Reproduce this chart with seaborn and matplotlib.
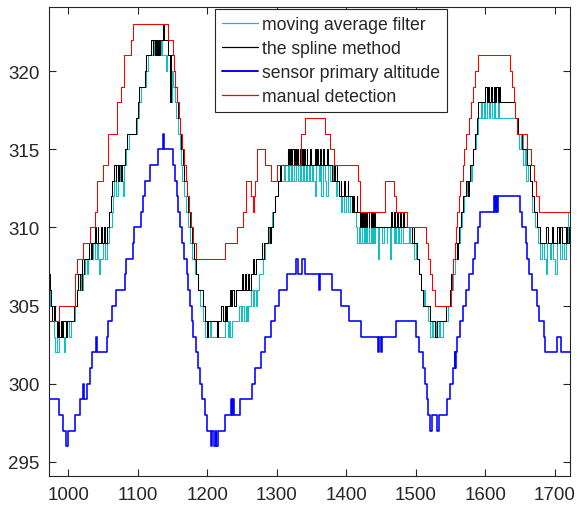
import matplotlib
matplotlib.use("Agg")
import matplotlib.pyplot as plt
import seaborn as sns

# step data: (x where the level starts, level)
moving_avg = [
    (972, 306), (974, 305), (977, 304), (979, 303), (981, 302), (983, 303), (984, 302), (986, 303),
    (990, 304), (991, 303), (993, 302), (995, 303), (998, 304), (1001, 303), (1003, 304), (1009, 305),
    (1013, 306), (1016, 307), (1018, 306), (1021, 307), (1024, 308), (1026, 307), (1028, 308), (1032, 309),
    (1034, 308), (1036, 309), (1038, 308), (1041, 309), (1043, 308), (1044, 307), (1046, 308), (1050, 309),
    (1052, 308), (1056, 309), (1059, 310), (1062, 311), (1064, 312), (1066, 313), (1069, 312), (1071, 313),
    (1074, 314), (1077, 313), (1078, 312), (1080, 314), (1083, 315), (1087, 316), (1099, 317), (1101, 318),
    (1104, 319), (1111, 320), (1115, 321), (1122, 322), (1123, 321), (1127, 322), (1128, 321), (1133, 322),
    (1134, 321), (1140, 320), (1142, 321), (1146, 319), (1147, 318), (1149, 320), (1151, 319), (1153, 318),
    (1155, 317), (1157, 316), (1160, 315), (1162, 314), (1164, 313), (1167, 312), (1169, 311), (1172, 310),
    (1175, 309), (1178, 308), (1182, 307), (1186, 306), (1189, 305), (1193, 304), (1196, 303), (1204, 304),
    (1205, 303), (1214, 304), (1216, 303), (1226, 304), (1229, 303), (1231, 304), (1233, 303), (1236, 304),
    (1245, 305), (1248, 304), (1250, 305), (1253, 304), (1255, 305), (1257, 304), (1258, 305), (1263, 306),
    (1266, 305), (1267, 306), (1270, 305), (1271, 306), (1275, 307), (1280, 308), (1283, 309), (1288, 310),
    (1293, 311), (1297, 312), (1301, 313), (1310, 314), (1312, 313), (1316, 314), (1318, 313), (1320, 314),
    (1322, 313), (1324, 314), (1325, 313), (1328, 314), (1330, 313), (1333, 314), (1335, 313), (1337, 314),
    (1339, 313), (1342, 314), (1343, 313), (1346, 314), (1348, 313), (1350, 314), (1352, 313), (1355, 312),
    (1357, 314), (1360, 313), (1362, 314), (1364, 312), (1366, 314), (1369, 313), (1371, 312), (1373, 314),
    (1376, 313), (1380, 314), (1381, 313), (1385, 312), (1387, 313), (1389, 312), (1393, 311), (1394, 312),
    (1397, 311), (1399, 312), (1403, 311), (1405, 312), (1408, 311), (1414, 310), (1416, 309), (1418, 310),
    (1420, 309), (1422, 310), (1423, 309), (1425, 310), (1427, 309), (1428, 310), (1430, 309), (1432, 310),
    (1433, 309), (1435, 310), (1437, 309), (1439, 310), (1440, 309), (1442, 310), (1445, 308), (1447, 310),
    (1452, 309), (1454, 310), (1458, 309), (1459, 310), (1463, 308), (1465, 310), (1468, 309), (1470, 310),
    (1472, 309), (1474, 310), (1476, 309), (1479, 310), (1481, 309), (1490, 310), (1491, 309), (1497, 308),
    (1500, 309), (1501, 308), (1504, 307), (1507, 306), (1510, 305), (1512, 306), (1513, 305), (1518, 304),
    (1520, 303), (1523, 304), (1525, 303), (1529, 304), (1531, 303), (1533, 304), (1535, 303), (1539, 304),
    (1546, 305), (1550, 306), (1553, 307), (1556, 308), (1559, 309), (1563, 310), (1566, 311), (1569, 312),
    (1574, 313), (1578, 314), (1580, 313), (1581, 314), (1583, 315), (1586, 316), (1590, 317), (1594, 318),
    (1596, 317), (1598, 318), (1600, 317), (1603, 318), (1605, 317), (1607, 318), (1609, 317), (1612, 318),
    (1614, 317), (1618, 318), (1620, 317), (1646, 316), (1649, 315), (1652, 316), (1654, 314), (1657, 315),
    (1659, 313), (1662, 314), (1664, 313), (1667, 312), (1668, 311), (1672, 310), (1676, 309), (1679, 308),
    (1682, 309), (1685, 308), (1687, 307), (1689, 309), (1693, 308), (1695, 309), (1698, 308), (1701, 307),
    (1703, 309), (1707, 308), (1710, 309), (1714, 308), (1716, 309), (1719, 311), (1722, 311),
]

spline = [
    (972, 307), (973, 306), (975, 305), (977, 304), (979, 305), (980, 304), (983, 303), (985, 304),
    (987, 303), (989, 304), (991, 303), (992, 304), (996, 303), (998, 304), (1008, 305), (1012, 306),
    (1014, 307), (1016, 306), (1017, 307), (1019, 306), (1020, 308), (1022, 307), (1023, 308), (1030, 309),
    (1033, 308), (1034, 309), (1038, 310), (1039, 309), (1042, 310), (1043, 309), (1047, 310), (1048, 309),
    (1051, 310), (1052, 309), (1055, 310), (1058, 311), (1061, 312), (1063, 313), (1066, 314), (1068, 313),
    (1069, 314), (1072, 313), (1073, 314), (1076, 313), (1077, 314), (1081, 315), (1085, 316), (1097, 317),
    (1100, 318), (1102, 319), (1110, 320), (1112, 321), (1119, 322), (1121, 321), (1122, 322), (1125, 321),
    (1126, 322), (1128, 321), (1129, 322), (1131, 321), (1132, 322), (1136, 323), (1137, 322), (1143, 321),
    (1146, 318), (1148, 321), (1152, 320), (1154, 319), (1156, 318), (1158, 317), (1160, 316), (1162, 315),
    (1165, 314), (1167, 313), (1170, 312), (1172, 311), (1175, 310), (1178, 309), (1181, 308), (1184, 307),
    (1186, 306), (1193, 305), (1197, 304), (1199, 303), (1201, 304), (1214, 303), (1216, 304), (1220, 305),
    (1222, 304), (1225, 305), (1227, 304), (1228, 305), (1232, 306), (1234, 305), (1236, 306), (1238, 305),
    (1241, 306), (1250, 307), (1251, 306), (1254, 307), (1255, 306), (1258, 307), (1260, 306), (1263, 307),
    (1266, 308), (1267, 307), (1270, 308), (1278, 309), (1279, 308), (1282, 309), (1287, 310), (1290, 309),
    (1291, 310), (1295, 311), (1298, 312), (1301, 313), (1304, 314), (1305, 313), (1306, 314), (1316, 315),
    (1317, 314), (1319, 315), (1320, 314), (1322, 315), (1324, 314), (1326, 315), (1328, 314), (1329, 315),
    (1331, 314), (1333, 315), (1334, 314), (1336, 315), (1338, 314), (1339, 315), (1341, 314), (1343, 315),
    (1344, 314), (1347, 315), (1349, 314), (1355, 315), (1356, 314), (1358, 315), (1359, 314), (1362, 315),
    (1363, 314), (1367, 315), (1368, 314), (1372, 315), (1373, 314), (1380, 313), (1382, 314), (1383, 313),
    (1386, 314), (1387, 313), (1390, 312), (1392, 313), (1393, 312), (1397, 313), (1398, 312), (1402, 313),
    (1403, 312), (1408, 311), (1410, 312), (1411, 311), (1415, 312), (1416, 311), (1420, 310), (1421, 311),
    (1423, 310), (1424, 311), (1426, 310), (1427, 311), (1429, 310), (1430, 311), (1432, 310), (1433, 311),
    (1435, 310), (1437, 311), (1438, 310), (1440, 311), (1442, 310), (1465, 311), (1466, 310), (1469, 311),
    (1470, 310), (1473, 311), (1474, 310), (1477, 311), (1479, 310), (1481, 311), (1483, 310), (1495, 309),
    (1497, 310), (1498, 309), (1502, 308), (1505, 307), (1508, 306), (1511, 305), (1520, 304), (1528, 303),
    (1531, 304), (1544, 305), (1549, 306), (1551, 307), (1554, 308), (1557, 309), (1560, 308), (1561, 309),
    (1562, 310), (1565, 311), (1568, 312), (1573, 313), (1575, 312), (1576, 313), (1578, 314), (1582, 315),
    (1585, 316), (1588, 317), (1590, 318), (1600, 319), (1602, 318), (1604, 319), (1606, 318), (1608, 319),
    (1610, 318), (1612, 319), (1614, 318), (1616, 319), (1618, 318), (1620, 319), (1621, 318), (1643, 317),
    (1647, 316), (1653, 315), (1660, 314), (1665, 313), (1667, 312), (1670, 311), (1674, 310), (1679, 309),
    (1688, 310), (1690, 309), (1696, 310), (1698, 309), (1703, 310), (1706, 309), (1708, 310), (1711, 309),
    (1716, 310), (1718, 309), (1720, 310), (1722, 310),
]

sensor = [
    (972, 299), (986, 298), (992, 297), (997, 296), (999, 297), (1010, 298), (1016, 299), (1021, 300),
    (1023, 299), (1026, 300), (1031, 301), (1034, 302), (1039, 303), (1041, 302), (1055, 303), (1057, 304),
    (1062, 305), (1068, 306), (1081, 307), (1083, 308), (1093, 309), (1095, 310), (1105, 311), (1107, 312),
    (1110, 313), (1118, 314), (1129, 315), (1136, 316), (1138, 315), (1150, 314), (1153, 313), (1156, 312),
    (1158, 311), (1161, 310), (1164, 309), (1167, 308), (1170, 307), (1172, 306), (1175, 305), (1178, 304),
    (1180, 303), (1183, 302), (1186, 301), (1189, 300), (1192, 299), (1196, 298), (1200, 297), (1205, 296),
    (1207, 297), (1209, 296), (1212, 297), (1213, 296), (1216, 297), (1226, 298), (1234, 299), (1235, 298),
    (1237, 299), (1239, 298), (1247, 299), (1264, 300), (1268, 301), (1277, 302), (1283, 303), (1292, 304),
    (1297, 305), (1303, 306), (1314, 307), (1328, 308), (1330, 307), (1336, 308), (1340, 307), (1361, 306),
    (1362, 307), (1379, 306), (1393, 305), (1404, 304), (1421, 303), (1446, 302), (1447, 303), (1450, 302),
    (1452, 303), (1471, 304), (1501, 303), (1505, 302), (1510, 301), (1513, 300), (1516, 299), (1518, 298),
    (1521, 297), (1524, 298), (1530, 297), (1534, 298), (1545, 299), (1549, 300), (1553, 301), (1556, 302),
    (1557, 301), (1558, 302), (1559, 303), (1564, 304), (1568, 305), (1573, 306), (1577, 307), (1582, 308),
    (1585, 309), (1589, 310), (1593, 311), (1612, 312), (1614, 311), (1616, 312), (1617, 311), (1619, 312),
    (1650, 311), (1653, 310), (1658, 309), (1660, 308), (1663, 307), (1667, 306), (1674, 305), (1678, 304),
    (1684, 303), (1686, 302), (1704, 303), (1709, 302), (1722, 302),
]

manual = [
    (972, 304), (986, 305), (1009, 307), (1012, 308), (1021, 309), (1031, 310), (1038, 311), (1041, 313),
    (1050, 314), (1057, 316), (1070, 318), (1076, 319), (1080, 321), (1090, 322), (1093, 323), (1143, 322),
    (1150, 321), (1152, 320), (1154, 319), (1156, 318), (1159, 317), (1161, 316), (1163, 315), (1166, 314),
    (1169, 313), (1171, 312), (1174, 311), (1177, 310), (1180, 309), (1184, 308), (1226, 309), (1243, 310),
    (1251, 311), (1256, 313), (1263, 312), (1265, 311), (1267, 312), (1268, 313), (1272, 315), (1283, 314),
    (1292, 313), (1300, 314), (1335, 316), (1340, 317), (1370, 316), (1376, 315), (1382, 314), (1417, 313),
    (1420, 311), (1455, 313), (1468, 312), (1471, 311), (1487, 310), (1514, 309), (1517, 308), (1520, 307),
    (1524, 306), (1528, 305), (1550, 306), (1552, 307), (1554, 308), (1556, 309), (1558, 310), (1560, 311),
    (1562, 312), (1564, 313), (1568, 314), (1570, 315), (1573, 316), (1576, 317), (1579, 318), (1582, 319),
    (1585, 320), (1589, 321), (1635, 320), (1638, 319), (1641, 318), (1643, 317), (1645, 316), (1660, 315),
    (1666, 314), (1670, 313), (1673, 312), (1678, 311), (1722, 311),
]

labels = ["moving average filter", "the spline method", "sensor primary altitude", "manual detection"]
colors = ["#10BFBF", "black", "blue", "red"]
widths = [0.75, 0.75, 1.15, 0.75]

sns.set_style("ticks")
plt.rcParams["font.family"] = ["Liberation Sans", "DejaVu Sans"]

fig = plt.figure(figsize=(5.77, 5.10), dpi=100)
ax = fig.add_axes([49 / 577, 1 - 477 / 510, 521 / 577, 469 / 510])

for series, lab, col, lw in zip([moving_avg, spline, sensor, manual], labels, colors, widths):
    xs = [p[0] for p in series]
    ys = [p[1] for p in series]
    sns.lineplot(x=xs, y=ys, ax=ax, estimator=None, sort=False, drawstyle="steps-post",
                 color=col, linewidth=lw, label=lab)

ax.set_xlim(972, 1722)
ax.set_ylim(294.1, 324.1)
ax.set_xticks(range(1000, 1701, 100))
ax.set_yticks(range(295, 321, 5))
ax.tick_params(direction="in", top=True, right=True, length=5, width=0.8,
               colors="#262626", labelsize=13.5, pad=7)
for sp in ax.spines.values():
    sp.set_color("#262626")
    sp.set_linewidth(0.8)

leg = ax.legend(loc="upper left", bbox_to_anchor=(0.3186, 0.9957), borderaxespad=0,
                fontsize=12.7, handlelength=2.05, handletextpad=0.22, labelspacing=0.4,
                borderpad=0.4, fancybox=False, framealpha=1, edgecolor="#262626")
leg.get_frame().set_linewidth(0.8)
for line in leg.get_lines():
    line.set_linewidth(line.get_linewidth() * 1.2)

fig.savefig("out.png", dpi=100)
